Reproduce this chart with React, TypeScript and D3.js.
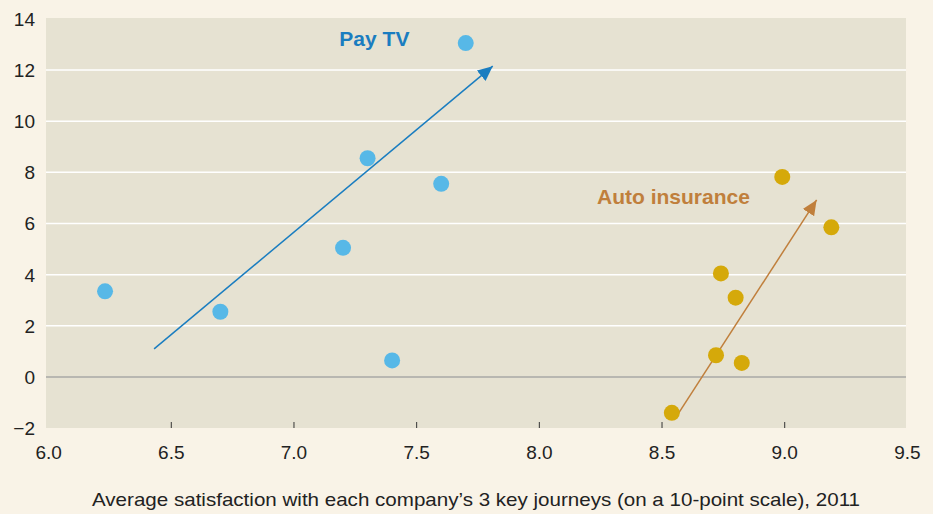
import * as d3 from "d3"
import React from "react"

// Pay TV companies: satisfaction (x) vs. value (y)
const payTvX = [6.23, 6.7, 7.2, 7.3, 7.4, 7.6, 7.7]
const payTvY = [3.35, 2.55, 5.05, 8.55, 0.65, 7.55, 13.05]

// Auto insurance companies
const autoX = [8.54, 8.72, 8.74, 8.8, 8.825, 8.99, 9.19]
const autoY = [-1.4, 0.85, 4.05, 3.1, 0.55, 7.82, 5.85]

// trend arrows: [x0, y0, x1, y1]
const payTvArrow = [6.43, 1.1, 7.81, 12.15]
const autoArrow = [8.565, -1.45, 9.13, 6.92]

const xTicks = [6.0, 6.5, 7.0, 7.5, 8.0, 8.5, 9.0, 9.5]
const yTicks = [-2, 0, 2, 4, 6, 8, 10, 12, 14]
const xTitle = "Average satisfaction with each company\u2019s 3 key journeys (on a 10-point scale), 2011"

const width = 933
const height = 514

const drawChart = (el: SVGSVGElement) => {
  const svg = d3.select(el)
  svg.selectAll("*").remove()

  const x = d3.scaleLinear([6, 9.5], [48.6, 907.4])
  const y = d3.scaleLinear([-2, 14], [428.2, 18.8])

  const font = "'Liberation Sans', Arial, Helvetica, sans-serif"

  svg.append("rect")
    .attr("width", width).attr("height", height)
    .attr("fill", "#f9f3e7")

  svg.append("rect")
    .attr("x", 46).attr("y", 18)
    .attr("width", 906 - 46).attr("height", 428 - 18)
    .attr("fill", "#e6e2d2")

  const defs = svg.append("defs")
  const marker = (id: string, color: string) => defs.append("marker")
    .attr("id", id)
    .attr("viewBox", "0 0 10 10")
    .attr("refX", 10).attr("refY", 5)
    .attr("markerWidth", 15).attr("markerHeight", 15)
    .attr("markerUnits", "userSpaceOnUse")
    .attr("orient", "auto")
    .append("path")
    .attr("d", "M0,0.5 L10,5 L0,9.5 Z")
    .attr("fill", color)
  marker("arrow-blue", "#1a7dc0")
  marker("arrow-brown", "#c07f3c")

  // gridlines
  svg.append("g")
    .selectAll("line")
    .data(yTicks.filter(d => d !== 0 && d !== -2 && d !== 14))
    .join("line")
    .attr("x1", 46).attr("x2", 906)
    .attr("y1", d => y(d)).attr("y2", d => y(d))
    .attr("stroke", "#ffffff")
    .attr("stroke-width", 1.5)

  svg.append("line")
    .attr("x1", 46).attr("x2", 906)
    .attr("y1", y(0)).attr("y2", y(0))
    .attr("stroke", "#a9a9a6")
    .attr("stroke-width", 1.5)

  // x axis: small inside ticks and labels
  const xAxis = svg.append("g")
  xAxis.selectAll("line")
    .data(xTicks.slice(1, -1))
    .join("line")
    .attr("x1", d => x(d)).attr("x2", d => x(d))
    .attr("y1", 428).attr("y2", 422)
    .attr("stroke", "#333")
    .attr("stroke-width", 1)
  xAxis.selectAll("text")
    .data(xTicks)
    .join("text")
    .attr("x", d => x(d))
    .attr("y", 459)
    .attr("text-anchor", "middle")
    .attr("font-family", font)
    .attr("font-size", 19)
    .attr("fill", "#222")
    .text(d => d3.format(".1f")(d))

  // y axis labels
  svg.append("g")
    .selectAll("text")
    .data(yTicks)
    .join("text")
    .attr("x", 35)
    .attr("y", d => y(d))
    .attr("dy", "0.36em")
    .attr("text-anchor", "end")
    .attr("font-family", font)
    .attr("font-size", 19)
    .attr("fill", "#222")
    .text(d => d < 0 ? "\u2212" + Math.abs(d) : String(d))

  // arrows
  const arrow = (a: number[], color: string, id: string) => svg.append("line")
    .attr("x1", x(a[0])).attr("y1", y(a[1]))
    .attr("x2", x(a[2])).attr("y2", y(a[3]))
    .attr("stroke", color)
    .attr("stroke-width", 1.5)
    .attr("marker-end", `url(#${id})`)
  arrow(payTvArrow, "#1a7dc0", "arrow-blue")
  arrow(autoArrow, "#c07f3c", "arrow-brown")

  // dots
  svg.append("g")
    .selectAll("circle")
    .data(d3.range(payTvX.length))
    .join("circle")
    .attr("cx", i => x(payTvX[i]))
    .attr("cy", i => y(payTvY[i]))
    .attr("r", 8)
    .attr("fill", "#57b8e7")

  svg.append("g")
    .selectAll("circle")
    .data(d3.range(autoX.length))
    .join("circle")
    .attr("cx", i => x(autoX[i]))
    .attr("cy", i => y(autoY[i]))
    .attr("r", 8)
    .attr("fill", "#d5a90a")

  // series labels
  svg.append("text")
    .attr("x", x(7.185)).attr("y", y(12.94))
    .attr("font-family", font)
    .attr("font-weight", "bold")
    .attr("font-size", 21)
    .attr("fill", "#1a7dc0")
    .text("Pay TV")

  svg.append("text")
    .attr("x", x(8.235)).attr("y", y(6.76))
    .attr("font-family", font)
    .attr("font-weight", "bold")
    .attr("font-size", 21)
    .attr("fill", "#c07f3c")
    .text("Auto insurance")

  // x title
  svg.append("text")
    .attr("x", 476)
    .attr("y", 506)
    .attr("text-anchor", "middle")
    .attr("font-family", font)
    .attr("font-size", 18.5)
    .attr("fill", "#222")
    .attr("textLength", 768)
    .attr("lengthAdjust", "spacingAndGlyphs")
    .text(xTitle)
}

const App = () => {
  const ref = React.useRef<SVGSVGElement>(null)

  React.useEffect(() => {
    if (ref.current) drawChart(ref.current)
  }, [])

  return (
    <svg
      ref={ref}
      width={width}
      height={height}
      style={{ position: "absolute", left: 0, top: 0, display: "block" }}
    />
  )
}

export default App
